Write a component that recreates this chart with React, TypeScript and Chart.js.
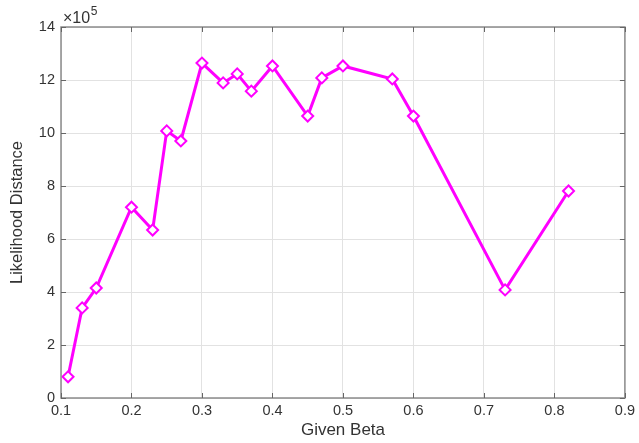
import React, { useEffect, useRef } from "react";
import { Chart, registerables } from "chart.js";

Chart.register(...registerables);

const betas = [0.11, 0.13, 0.15, 0.2, 0.23, 0.25, 0.27, 0.3, 0.33, 0.35, 0.37, 0.4, 0.45, 0.47, 0.5, 0.57, 0.6, 0.73, 0.82];
const distances = [80000, 340000, 415000, 720000, 634000, 1008000, 970000, 1264000, 1189000, 1223000, 1158000, 1253000, 1064000, 1208000, 1253000, 1204000, 1064000, 408000, 781000];
const xTicks = [0.1, 0.2, 0.3, 0.4, 0.5, 0.6, 0.7, 0.8, 0.9];
const yTicks = [0, 200000, 400000, 600000, 800000, 1000000, 1200000, 1400000];

const FONT = "'Liberation Sans', Arial, Helvetica, sans-serif";

const boxPlugin = {
  id: "matlabBox",
  afterDraw(chart: any) {
    const { ctx, chartArea: a, scales } = chart;
    ctx.save();
    ctx.strokeStyle = "#8c8c8c";
    ctx.lineWidth = 1.5;
    ctx.beginPath();
    ctx.rect(a.left, a.top, a.right - a.left, a.bottom - a.top);
    ctx.stroke();
    const tl = 5;
    ctx.lineWidth = 1;
    ctx.strokeStyle = "#666666";
    ctx.beginPath();
    for (const v of xTicks) {
      const x = Math.round(scales.x.getPixelForValue(v)) + 0.5;
      ctx.moveTo(x, a.bottom);
      ctx.lineTo(x, a.bottom - tl);
      ctx.moveTo(x, a.top);
      ctx.lineTo(x, a.top + tl);
    }
    for (const v of yTicks) {
      const y = Math.round(scales.y.getPixelForValue(v)) + 0.5;
      ctx.moveTo(a.left, y);
      ctx.lineTo(a.left + tl, y);
      ctx.moveTo(a.right, y);
      ctx.lineTo(a.right - tl, y);
    }
    ctx.stroke();
    // exponent label
    ctx.fillStyle = "#333333";
    ctx.textBaseline = "alphabetic";
    ctx.textAlign = "left";
    ctx.font = `16px ${FONT}`;
    ctx.fillText("×10", a.left + 2, a.top - 4);
    const w = ctx.measureText("×10").width;
    ctx.font = `12px ${FONT}`;
    ctx.fillText("5", a.left + 2.5 + w, a.top - 12);
    ctx.restore();
  },
};

export default function App() {
  const ref = useRef<HTMLCanvasElement>(null);
  useEffect(() => {
    document.body.style.margin = "0";
    const chart = new Chart(ref.current!, {
      type: "line",
      data: {
        datasets: [
          {
            data: betas.map((b, i) => ({ x: b, y: distances[i] })),
            borderColor: "#ff00ff",
            borderWidth: 3,
            pointStyle: "rectRot",
            pointRadius: 5.5,
            pointBorderWidth: 2,
            pointBackgroundColor: "#ffffff",
            pointBorderColor: "#ff00ff",
            tension: 0,
          },
        ],
      },
      options: {
        animation: false,
        responsive: false,
        layout: { padding: { left: 0, right: 11, top: 27, bottom: 0 } },
        plugins: { legend: { display: false }, tooltip: { enabled: false } },
        scales: {
          x: {
            type: "linear",
            min: 0.1,
            max: 0.9,
            afterBuildTicks(scale: any) {
              scale.ticks = xTicks.map((v) => ({ value: v }));
            },
            afterFit(scale: any) {
              scale.height = 45;
            },
            grid: { color: "#e2e2e2", drawTicks: false },
            border: { display: false },
            ticks: {
              padding: 4,
              color: "#333333",
              font: { family: FONT, size: 14.5 },
              maxRotation: 0,
              callback: (v: any) => Number(v).toFixed(1),
            },
            title: {
              display: true,
              text: "Given Beta",
              color: "#333333",
              font: { family: FONT, size: 17 },
              padding: { top: 0, bottom: 2 },
            },
          },
          y: {
            type: "linear",
            min: 0,
            max: 1400000,
            afterBuildTicks(scale: any) {
              scale.ticks = yTicks.map((v) => ({ value: v }));
            },
            afterFit(scale: any) {
              scale.width = 61;
            },
            grid: { color: "#e2e2e2", drawTicks: false },
            border: { display: false },
            ticks: {
              padding: 6,
              color: "#333333",
              font: { family: FONT, size: 14.5 },
              callback: (v: any) => String(Math.round(Number(v) / 100000)),
            },
            title: {
              display: true,
              text: "Likelihood Distance",
              color: "#333333",
              font: { family: FONT, size: 16.5 },
              padding: { top: 8, bottom: 0 },
            },
          },
        },
      },
      plugins: [boxPlugin],
    });
    return () => chart.destroy();
  }, []);
  return <canvas ref={ref} width={639} height={443} style={{ display: "block" }} />;
}
